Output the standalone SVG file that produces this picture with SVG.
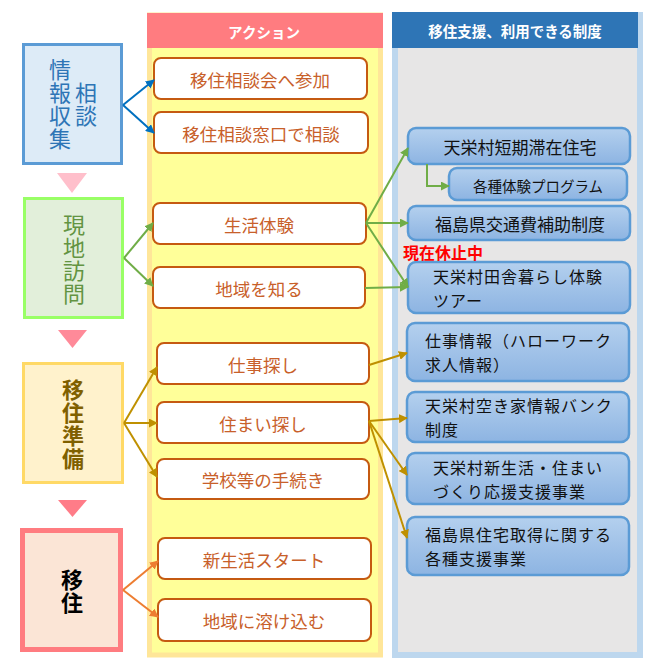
<svg xmlns="http://www.w3.org/2000/svg" width="650" height="668" viewBox="0 0 650 668">
<style>
text{font-family:"Noto Sans CJK JP","Noto Sans",sans-serif}
.act rect{fill:#fff;stroke:#C55A11;stroke-width:2}
.act text{fill:#C8602A;font-size:17.5px;text-anchor:middle;dominant-baseline:central}
.sup rect{fill:url(#bg);stroke:#5B9BD5;stroke-width:2.5}
.sup text{fill:#111;font-size:17px;dominant-baseline:central}
.sup text.ml{font-size:16px;letter-spacing:1px}
.hd{fill:#fff;font-size:14.5px;font-weight:bold;text-anchor:middle;dominant-baseline:central}
.vt{font-size:22px;writing-mode:vertical-rl;letter-spacing:1px}
.cb{stroke:#0070C0;stroke-width:2;fill:none;marker-end:url(#mb)}
.cg{stroke:#70AD47;stroke-width:2;fill:none;marker-end:url(#mg)}
.cy{stroke:#BF9000;stroke-width:2;fill:none;marker-end:url(#my)}
.co{stroke:#ED7D31;stroke-width:2;fill:none;marker-end:url(#mo)}
</style>
<defs>
<linearGradient id="bg" x1="0" y1="0" x2="0" y2="1"><stop offset="0" stop-color="#B4D0EE"/><stop offset="1" stop-color="#8DB4E2"/></linearGradient>
<marker id="mb" viewBox="0 0 10 10" refX="9" refY="5" markerWidth="4.5" markerHeight="4.5" orient="auto"><path d="M0,0L10,5L0,10z" fill="#0070C0"/></marker>
<marker id="mg" viewBox="0 0 10 10" refX="9" refY="5" markerWidth="4.5" markerHeight="4.5" orient="auto"><path d="M0,0L10,5L0,10z" fill="#70AD47"/></marker>
<marker id="my" viewBox="0 0 10 10" refX="9" refY="5" markerWidth="4.5" markerHeight="4.5" orient="auto"><path d="M0,0L10,5L0,10z" fill="#BF9000"/></marker>
<marker id="mo" viewBox="0 0 10 10" refX="9" refY="5" markerWidth="4.5" markerHeight="4.5" orient="auto"><path d="M0,0L10,5L0,10z" fill="#ED7D31"/></marker>
</defs>
<rect width="650" height="668" fill="#fff"/>
<g id="col-action">
<rect x="149.5" y="15" width="231" height="640" fill="#FFFF99" stroke="#FFE699" stroke-width="5"/>
<rect x="147" y="13" width="236" height="35" fill="#FF7C80"/>
<text class="hd" x="264" y="31">アクション</text>
</g>
<g id="col-support">
<rect x="395" y="15" width="245" height="640" fill="#E7E6E6" stroke="#BDD7EE" stroke-width="6"/>
<rect x="392" y="12" width="246" height="36" fill="#2E75B6"/>
<text class="hd" x="515" y="30">移住支援、利用できる制度</text>
</g>
<g id="stage-info">
<rect x="23.5" y="44.5" width="98" height="119" fill="#DDEBF7" stroke="#5B9BD5" stroke-width="3"/>
<text class="vt" fill="#2E75B6" x="60" y="59">情報収集</text>
<text class="vt" fill="#2E75B6" x="86" y="82">相談</text>
</g>
<polygon id="tri1" points="57,173 87,173 72,193" fill="#FFBFCB"/>
<g id="stage-visit">
<rect x="24.5" y="198.5" width="98" height="119" fill="#E2EFDA" stroke="#99FF66" stroke-width="3"/>
<text class="vt" fill="#639442" x="74" y="214">現地訪問</text>
</g>
<polygon id="tri2" points="58,330 87,330 72.5,348" fill="#FF8A99"/>
<g id="stage-prep">
<rect x="23.5" y="363.5" width="99" height="119" fill="#FFF2CC" stroke="#FFD966" stroke-width="3"/>
<text class="vt" fill="#7F6000" font-weight="bold" x="73" y="379">移住準備</text>
</g>
<polygon id="tri3" points="58,500 87,500 72.5,517" fill="#FF7C88"/>
<g id="stage-move">
<rect x="22.5" y="530.5" width="98" height="119" fill="#FBE5D6" stroke="#FF7C80" stroke-width="5"/>
<text class="vt" fill="#000" font-weight="bold" x="72" y="569">移住</text>
</g>
<g id="a1" class="act"><rect x="154" y="58" width="213" height="41" rx="7"/><text x="260" y="79">移住相談会へ参加</text></g>
<g id="a2" class="act"><rect x="154" y="112" width="214" height="41" rx="7"/><text x="261" y="133">移住相談窓口で相談</text></g>
<g id="a3" class="act"><rect x="153" y="203" width="213" height="41" rx="7"/><text x="259" y="224">生活体験</text></g>
<g id="a4" class="act"><rect x="153" y="267" width="212" height="41" rx="7"/><text x="259" y="288">地域を知る</text></g>
<g id="a5" class="act"><rect x="157" y="343" width="212" height="41" rx="7"/><text x="263" y="364">仕事探し</text></g>
<g id="a6" class="act"><rect x="157" y="402" width="212" height="41" rx="7"/><text x="263" y="423">住まい探し</text></g>
<g id="a7" class="act"><rect x="157" y="459" width="212" height="40" rx="7"/><text x="263" y="479">学校等の手続き</text></g>
<g id="a8" class="act"><rect x="158" y="538" width="213" height="41" rx="7"/><text x="264" y="559">新生活スタート</text></g>
<g id="a9" class="act"><rect x="158" y="599" width="213" height="42" rx="7"/><text x="264" y="620">地域に溶け込む</text></g>
<g id="s1" class="sup"><rect x="408" y="128" width="222" height="36" rx="8"/><text x="520" y="146" text-anchor="middle">天栄村短期滞在住宅</text></g>
<g id="s2" class="sup"><rect x="449" y="168" width="178" height="32" rx="8"/><text x="538" y="185" text-anchor="middle" style="font-size:14.5px">各種体験プログラム</text></g>
<g id="s3" class="sup"><rect x="408" y="206" width="222" height="34" rx="8"/><text x="520" y="223" text-anchor="middle">福島県交通費補助制度</text></g>
<g id="s4" class="sup"><rect x="408" y="262" width="222" height="51" rx="8"/><text class="ml" x="433" y="276">天栄村田舎暮らし体験</text><text class="ml" x="433" y="299.5">ツアー</text></g>
<g id="s5" class="sup"><rect x="407" y="323" width="222" height="58" rx="8"/><text class="ml" x="425" y="340">仕事情報（ハローワーク</text><text class="ml" x="425" y="363.5">求人情報）</text></g>
<g id="s6" class="sup"><rect x="407" y="392" width="222" height="50" rx="8"/><text class="ml" x="425" y="405">天栄村空き家情報バンク</text><text class="ml" x="425" y="428.5">制度</text></g>
<g id="s7" class="sup"><rect x="407" y="453" width="222" height="51" rx="8"/><text class="ml" x="433" y="467">天栄村新生活・住まい</text><text class="ml" x="433" y="490.5">づくり応援支援事業</text></g>
<g id="s8" class="sup"><rect x="407" y="517" width="222" height="58" rx="8"/><text class="ml" x="425" y="534">福島県住宅取得に関する</text><text class="ml" x="425" y="557.5">各種支援事業</text></g>
<text id="note" x="403" y="252" fill="#FF0000" font-size="16" font-weight="bold" dominant-baseline="central">現在休止中</text>
<g id="connectors">
<path class="cb" d="M123,105L154,80"/>
<path class="cb" d="M123,105L154,133"/>
<path class="cg" d="M124,258L153,223"/>
<path class="cg" d="M124,258L153,286"/>
<path class="cg" d="M366,223L408,148"/>
<path class="cg" d="M366,223L408,223"/>
<path class="cg" d="M366,223L408,287"/>
<path class="cg" d="M365,288L408,287"/>
<path class="cg" d="M427,164V186H449"/>
<path class="cy" d="M124,423L157,367"/>
<path class="cy" d="M124,423L157,423"/>
<path class="cy" d="M124,423L157,477"/>
<path class="cy" d="M369,365L407,353"/>
<path class="cy" d="M369,421L407,418"/>
<path class="cy" d="M369,421L407,475"/>
<path class="cy" d="M369,421L407,538"/>
<path class="co" d="M123,590L158,561"/>
<path class="co" d="M123,590L158,617"/>
</g>
</svg>
